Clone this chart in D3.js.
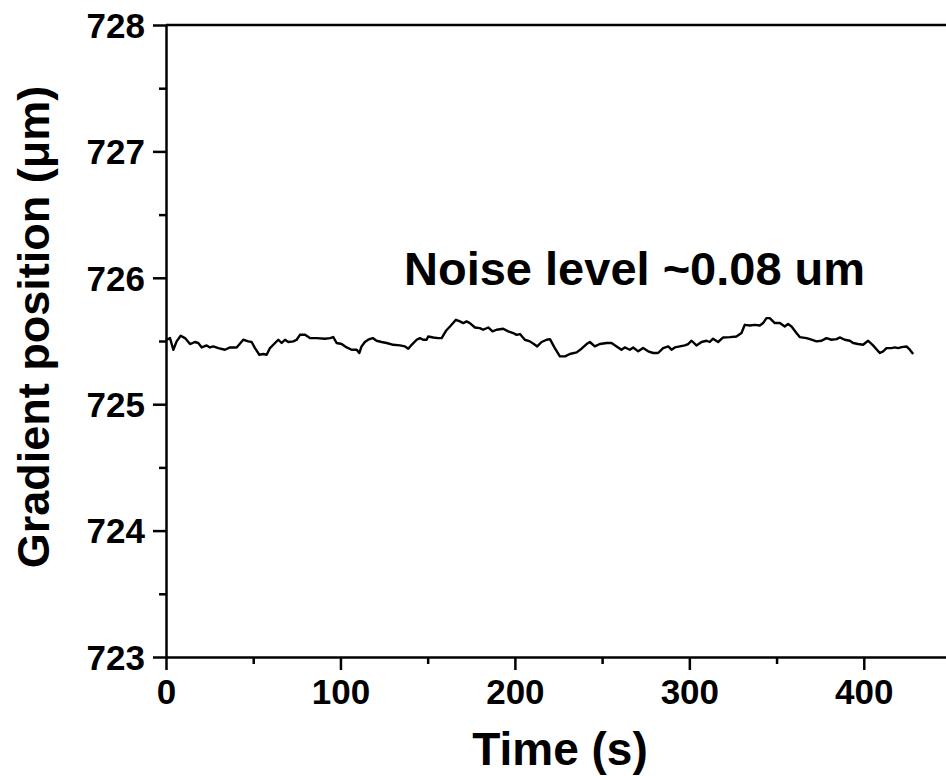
<!DOCTYPE html>
<html>
<head>
<meta charset="utf-8">
<script src="https://cdn.jsdelivr.net/npm/d3@7"></script>
<style>
	body { margin: 0; background: #fff; }
	svg { display: block; }
	text { font-family: "Liberation Sans", Arial, sans-serif; font-weight: bold; fill: #000; }
	.axis path, .axis line { stroke: #000; stroke-width: 2.5; }
	.trace { fill: none; stroke: #000; stroke-width: 2.4; stroke-linejoin: round; }
</style>
</head>
<body>
<div class="chart"></div>
<script>
const WIDTH = 946;
const HEIGHT = 776;
const LEFT = 166;
const TOP = 25;
const BOTTOM = 657;
const RIGHT = 951;

// time (s)
var timeValues = [
	0.4, 2.3, 4.2, 6.1, 8.4, 10.9, 13.8, 16.6, 18.5, 20.5, 23.3, 25.2, 27.1, 30.0, 33.8, 36.7, 40.5,
	44.3, 47.2, 49.1, 51.0, 53.5, 55.8, 57.7, 59.6, 62.5, 64.4, 66.3, 68.2, 70.1, 73.0, 74.9, 76.8,
	79.7, 82.5, 86.4, 91.1, 94.0, 95.9, 97.8, 100.7, 103.6, 106.4, 109.3, 110.8, 112.1, 114.0, 115.9,
	118.5, 120.7, 123.6, 126.5, 130.3, 134.1, 137.0, 138.9, 140.8, 143.7, 145.6, 147.4, 149.4, 150.3,
	153.2, 156.0, 158.0, 160.5, 162.8, 166.2, 168.5, 170.4, 172.3, 174.2, 177.1, 179.9, 181.8, 184.7,
	187.2, 189.5, 193.3, 196.2, 199.0, 201.0, 202.9, 205.7, 208.6, 211.5, 212.8, 215.3, 218.2, 220.1,
	222.9, 225.8, 228.7, 231.5, 235.4, 238.2, 241.1, 243.0, 245.8, 248.7, 252.6, 255.4, 258.3, 261.1,
	263.0, 265.9, 267.8, 270.7, 273.5, 276.4, 279.3, 282.1, 285.0, 287.9, 289.8, 291.7, 294.6, 297.4,
	299.3, 301.3, 304.1, 307.0, 309.9, 311.7, 313.6, 316.5, 319.4, 323.2, 327.0, 329.9, 331.8, 334.7,
	337.5, 340.4, 342.3, 344.2, 346.1, 349.0, 351.9, 354.7, 356.6, 358.6, 361.4, 363.3, 367.2, 370.0,
	372.9, 375.8, 378.6, 381.5, 384.4, 386.2, 389.1, 392.0, 393.9, 396.7, 399.6, 402.5, 405.3, 409.2,
	411.1, 413.0, 415.9, 417.8, 419.7, 421.7, 424.5, 426.4, 428.3
];

// gradient position (um)
var positionValues = [
	725.510, 725.523, 725.431, 725.497, 725.542, 725.523, 725.476, 725.492, 725.484, 725.449, 725.465,
	725.449, 725.457, 725.444, 725.431, 725.449, 725.449, 725.510, 725.497, 725.492, 725.444, 725.391,
	725.397, 725.391, 725.444, 725.484, 725.510, 725.484, 725.510, 725.492, 725.497, 725.510, 725.549,
	725.549, 725.523, 725.523, 725.518, 725.523, 725.531, 725.484, 725.476, 725.449, 725.431, 725.431,
	725.405, 725.457, 725.492, 725.510, 725.523, 725.502, 725.492, 725.484, 725.470, 725.465, 725.457,
	725.439, 725.470, 725.510, 725.523, 725.510, 725.510, 725.536, 725.528, 725.523, 725.523, 725.581,
	725.615, 725.668, 725.655, 725.642, 725.655, 725.642, 725.607, 725.602, 725.589, 725.607, 725.576,
	725.589, 725.597, 725.576, 725.563, 725.549, 725.555, 725.510, 725.497, 725.470, 725.457, 725.492,
	725.510, 725.515, 725.444, 725.378, 725.378, 725.397, 725.410, 725.439, 725.476, 725.492, 725.457,
	725.476, 725.484, 725.484, 725.457, 725.431, 725.449, 725.431, 725.449, 725.418, 725.444, 725.418,
	725.405, 725.405, 725.444, 725.457, 725.431, 725.449, 725.457, 725.465, 725.476, 725.502, 725.465,
	725.492, 725.502, 725.492, 725.518, 725.492, 725.528, 725.531, 725.536, 725.563, 725.628, 725.623,
	725.628, 725.623, 725.642, 725.681, 725.681, 725.642, 725.642, 725.615, 725.634, 725.615, 725.563,
	725.531, 725.523, 725.510, 725.497, 725.502, 725.523, 725.510, 725.515, 725.528, 725.510, 725.502,
	725.484, 725.476, 725.470, 725.502, 725.465, 725.405, 725.418, 725.444, 725.444, 725.449, 725.444,
	725.452, 725.457, 725.431, 725.397
];

var xTicks = [0, 100, 200, 300, 400];
var xMinorTicks = [50, 150, 250, 350];
var yTicks = [723, 724, 725, 726, 727, 728];
var yMinorTicks = [723.5, 724.5, 725.5, 726.5, 727.5];

var xLabel = "Time (s)";
var yLabel = "Gradient position (\u03bcm)";
var noteText = "Noise level ~0.08 um";

var translate = function(x, y){
	return "translate(" + x + "," + y + ")";
};

var svg = d3.select(".chart").append("svg")
	.attr("width", WIDTH)
	.attr("height", HEIGHT);

var xScale = d3.scaleLinear()
	.domain([0, 450])
	.range([LEFT, RIGHT]);

var yScale = d3.scaleLinear()
	.domain([723, 728])
	.range([BOTTOM, TOP]);

// top frame line
svg.append("line")
	.attr("x1", LEFT).attr("x2", WIDTH)
	.attr("y1", yScale(728)).attr("y2", yScale(728))
	.attr("stroke", "#000")
	.attr("stroke-width", 2.5);

// minor ticks first, majors on top
svg.append("g")
	.attr("class", "axis")
	.attr("transform", translate(0, BOTTOM))
	.call(d3.axisBottom(xScale).tickValues(xMinorTicks).tickSize(7).tickFormat(""))
	.select(".domain").remove();

svg.append("g")
	.attr("class", "axis")
	.attr("transform", translate(LEFT, 0))
	.call(d3.axisLeft(yScale).tickValues(yMinorTicks).tickSize(7).tickFormat(""))
	.select(".domain").remove();

var xAxis = svg.append("g")
	.attr("class", "axis")
	.attr("transform", translate(0, BOTTOM))
	.call(d3.axisBottom(xScale).tickValues(xTicks).tickSize(13).tickSizeOuter(0).tickPadding(9));

xAxis.selectAll("text")
	.style("font-size", "35px");

var yAxis = svg.append("g")
	.attr("class", "axis")
	.attr("transform", translate(LEFT, 0))
	.call(d3.axisLeft(yScale).tickValues(yTicks).tickFormat(d3.format("d"))
		.tickSize(13).tickSizeOuter(0).tickPadding(8));

yAxis.selectAll("text")
	.style("font-size", "35px")
	.attr("dy", "0.35em");

var line = d3.line()
	.x(function(d, i){ return xScale(timeValues[i]); })
	.y(function(d){ return yScale(d); });

svg.append("path")
	.attr("class", "trace")
	.attr("d", line(positionValues));

svg.append("text")
	.attr("x", 404)
	.attr("y", 285)
	.style("font-size", "47px")
	.text(noteText);

svg.append("text")
	.attr("x", 560)
	.attr("y", 765)
	.attr("text-anchor", "middle")
	.style("font-size", "46px")
	.text(xLabel);

svg.append("text")
	.attr("transform", translate(49, 327) + " rotate(-90)")
	.attr("text-anchor", "middle")
	.style("font-size", "45px")
	.text(yLabel);
</script>
</body>
</html>
